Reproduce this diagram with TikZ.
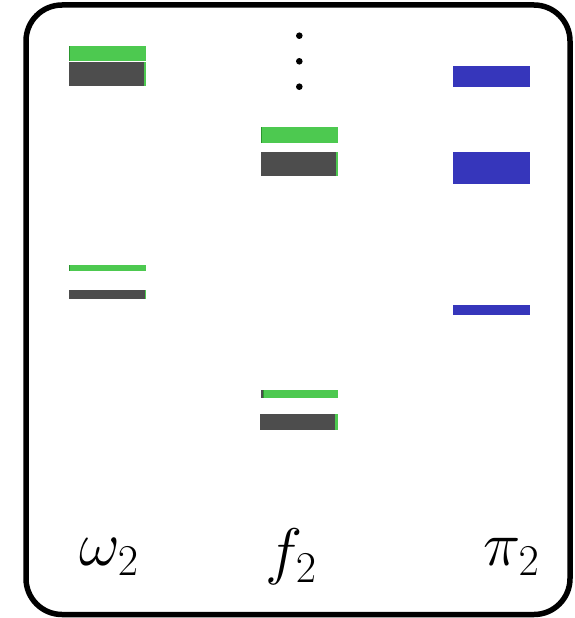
\RequirePackage{fix-cm}
\documentclass[tikz,border=0pt]{standalone}
\DeclareMathSizes{63}{63}{44}{32}
\definecolor{lvgreen}{RGB}{77,201,80}
\definecolor{lvdkgreen}{RGB}{42,150,46}
\definecolor{lvgray}{RGB}{77,77,77}
\definecolor{lvblue}{RGB}{54,54,187}
\tikzset{
  frame/.style={draw=black, line width=5.5pt, rounded corners=36pt},
  label/.style={inner sep=0pt, anchor=center, font=\fontsize{63}{70}\selectfont},
  vdot/.style={fill=black}
}
\begin{document}
\begin{tikzpicture}[x=1pt, y=-1pt]
  \useasboundingbox (0,0) rectangle (575,618);
  % outer frame
  \draw[frame] (26,5) rectangle (570,614.5);

  % omega_2 levels
  \fill[lvgreen] (69,46) rectangle (146,61);
  \fill[lvdkgreen] (68.5,46) rectangle (70.3,61);
  \fill[lvgray] (68.5,62) rectangle (144.3,86);
  \fill[lvgreen] (144.3,62) rectangle (146,86);

  \fill[lvgreen] (69,265) rectangle (146,270.7);
  \fill[lvdkgreen] (68.7,265) rectangle (70,270.7);
  \fill[lvgray] (68.7,290) rectangle (144.7,299);
  \fill[lvgreen] (144.7,290) rectangle (146,299);

  % f_2 levels
  \fill[vdot] (299.3,35.7) circle (3.3);
  \fill[vdot] (299.3,61.3) circle (3.3);
  \fill[vdot] (299.3,86.7) circle (3.3);

  \fill[lvgreen] (261,127) rectangle (337.7,142.7);
  \fill[lvdkgreen] (260.7,127) rectangle (261.9,142.7);
  \fill[lvgray] (260.7,152) rectangle (336.3,176);
  \fill[lvgreen] (336.3,152) rectangle (337.7,176);

  \fill[lvgreen] (264,390) rectangle (337.7,397.7);
  \fill[lvgray] (260.7,390) rectangle (262.7,397.7);
  \fill[lvdkgreen] (262.7,390) rectangle (264,397.7);
  \fill[lvgray] (259.7,414) rectangle (335,430);
  \fill[lvgreen] (335,414) rectangle (337.7,430);

  % pi_2 levels
  \fill[lvblue] (452.7,66) rectangle (530,86.7);
  \fill[lvblue] (452.7,152) rectangle (530,183.7);
  \fill[lvblue] (452.7,305) rectangle (530,315);

  % column labels
  \node[label] (lomega) at (109,557) {$\omega_2$};
  \node[label] (lf) at (291,557) {$f_2$};
  \node[label] (lpi) at (511.5,557) {$\pi_2$};
\end{tikzpicture}
\end{document}
